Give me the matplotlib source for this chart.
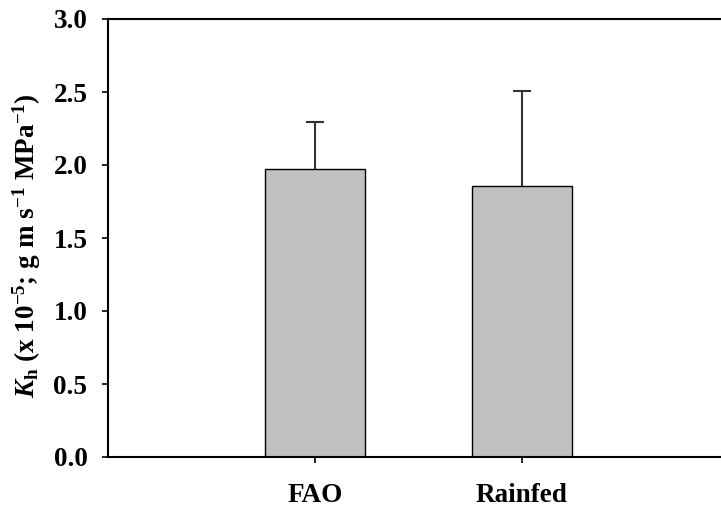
import matplotlib
matplotlib.use("Agg")
import matplotlib.pyplot as plt

plt.rcParams["font.family"] = "Liberation Serif"
plt.rcParams["font.weight"] = "bold"
plt.rcParams["mathtext.fontset"] = "custom"
plt.rcParams["mathtext.rm"] = "Liberation Serif:bold"
plt.rcParams["mathtext.it"] = "Liberation Serif:italic:bold"
plt.rcParams["mathtext.bf"] = "Liberation Serif:bold"

treatments = ['FAO', 'Rainfed']
kh_mean = [1.970, 1.856]
kh_err_up = [0.327, 0.651]

fig = plt.figure(figsize=(7.21, 5.08), dpi=100)
ax = fig.add_axes([108/721, 51/508, 621/721, 438/508])

xpos = list(range(len(treatments)))
ax.bar(xpos, kh_mean, width=0.48, color='#c0c0c0', edgecolor='k', linewidth=1.0, zorder=2)
eb = ax.errorbar(xpos, kh_mean, yerr=[[0]*len(kh_mean), kh_err_up], fmt='none',
                 ecolor='#333333', elinewidth=1.5, capsize=6.5, capthick=1.5, zorder=1)
# only upper caps
eb[1][0].set_visible(False)

ax.set_xlim(-1, 2)
ax.set_ylim(0, 3.0)
ax.set_yticks([0.0, 0.5, 1.0, 1.5, 2.0, 2.5, 3.0])
ax.set_yticklabels(['%.1f' % v for v in ax.get_yticks()])
ax.set_xticks(xpos)
ax.set_xticklabels(treatments)

ax.spines['right'].set_visible(False)
for s in ['left', 'bottom', 'top']:
    ax.spines[s].set_linewidth(1.5)
ax.tick_params(axis='y', direction='out', length=6*0.72, width=1.2, labelsize=19.5, pad=10.5)
ax.tick_params(axis='x', direction='out', length=6*0.72, width=1.2, labelsize=19.5, pad=14.5)
ax.tick_params(top=False, right=False)

ax.set_ylabel(r'$\mathit{K}_{\mathrm{h}}$ (x 10$^{\mathrm{-5}}$; g m s$^{\mathrm{-1}}$ MPa$^{\mathrm{-1}}$)',
              fontsize=19.5, fontweight='bold')
ax.yaxis.set_label_coords(-0.104, 0.482)

fig.savefig('out.png', dpi=100)
